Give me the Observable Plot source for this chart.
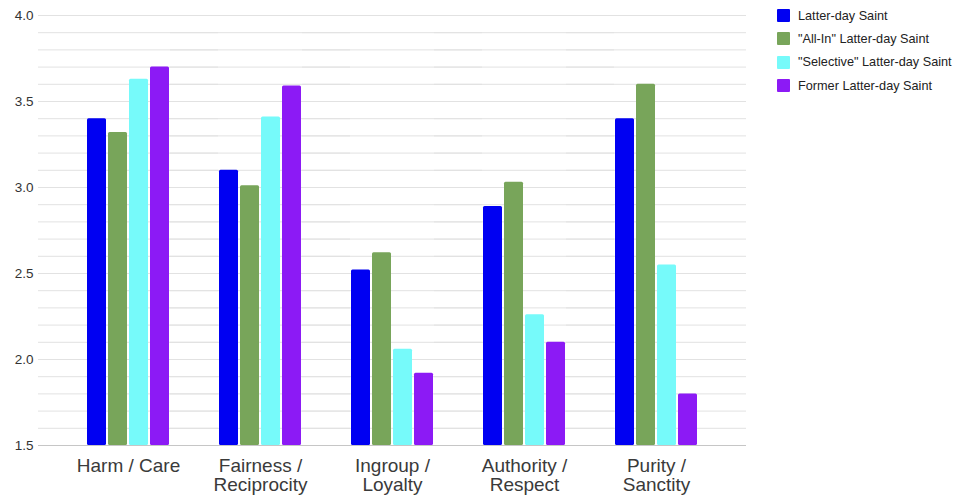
<!DOCTYPE html>
<html><head><meta charset="utf-8">
<script src="https://cdn.jsdelivr.net/npm/d3@7"></script>
<script src="https://cdn.jsdelivr.net/npm/@observablehq/plot@0.6"></script>
<style>
body{margin:0;background:#fff;font-family:"Liberation Sans",Arial,sans-serif;}
#wrap{position:relative;width:956px;height:495px;}
#wrap svg{display:block;}
#legend{position:absolute;left:777px;top:4px;font-size:12.7px;color:#222;}
.item{display:flex;align-items:center;height:23.3px;}
.sw{width:13px;height:13px;margin-right:8px;border-radius:1px;}
</style></head><body><div id="wrap"><div id="legend"></div></div>
<script>
const categories = ["Harm / Care", "Fairness / Reciprocity", "Ingroup / Loyalty", "Authority / Respect", "Purity / Sanctity"];
const categoryLabels = ["Harm / Care", "Fairness /\nReciprocity", "Ingroup /\nLoyalty", "Authority /\nRespect", "Purity /\nSanctity"];
const series = ["Latter-day Saint", "\"All-In\" Latter-day Saint", "\"Selective\" Latter-day Saint", "Former Latter-day Saint"];
const colors = ["#0000f2", "#78a55a", "#76fafa", "#8c1af5"];
const latterDaySaint = [3.40, 3.10, 2.52, 2.89, 3.40];
const allIn = [3.32, 3.01, 2.62, 3.03, 3.60];
const selective = [3.63, 3.41, 2.06, 2.26, 2.55];
const former = [3.70, 3.59, 1.92, 2.10, 1.80];
const yTickLabels = [1.5, 2.0, 2.5, 3.0, 3.5, 4.0];
const yMin = 1.5, yMax = 4.0;

const values = [latterDaySaint, allIn, selective, former];
const data = [];
categories.forEach((c, i) => series.forEach((s, j) => data.push({category: c, series: s, value: values[j][i]})));
const gridTicks = d3.ticks(yMin, yMax, 25);

const chart = Plot.plot({
  width: 956,
  height: 495,
  marginLeft: 62,
  marginRight: 234,
  marginTop: 15,
  marginBottom: 50,
  style: {fontFamily: "'Liberation Sans', Arial, sans-serif", background: "#fff"},
  fx: {domain: categories, padding: 0},
  x: {domain: series, paddingInner: 0.1, paddingOuter: 0, insetLeft: 24, insetRight: 24, axis: null},
  y: {domain: [yMin, yMax], axis: null},
  color: {domain: series, range: colors},
  marks: [
    Plot.ruleY(gridTicks, {stroke: d => d === yMin ? "#c6c6c6" : "#e2e2e2", strokeWidth: 1, insetLeft: -24, insetRight: -24}),
    Plot.axisY({ticks: yTickLabels, tickFormat: d => d.toFixed(1), tickSize: 0, tickPadding: 29, fontSize: 13.5, fill: "#333", label: null}),
    Plot.barY(data, {fx: "category", x: "series", y1: yMin, y2: "value", fill: "series", rx: 1.5}),
    Plot.axisFx({anchor: "bottom", tickSize: 0, tickPadding: 13, label: null, fontSize: 19, lineHeight: 1.0, fill: "#3a3a3a",
      tickFormat: d => categoryLabels[categories.indexOf(d)]})
  ]
});
document.getElementById("wrap").prepend(chart);

const legend = document.getElementById("legend");
series.forEach((s, i) => {
  const it = document.createElement("div");
  it.className = "item";
  const sw = document.createElement("span");
  sw.className = "sw";
  sw.style.background = colors[i];
  const t = document.createElement("span");
  t.textContent = s;
  it.append(sw, t);
  legend.append(it);
});
</script></body></html>
